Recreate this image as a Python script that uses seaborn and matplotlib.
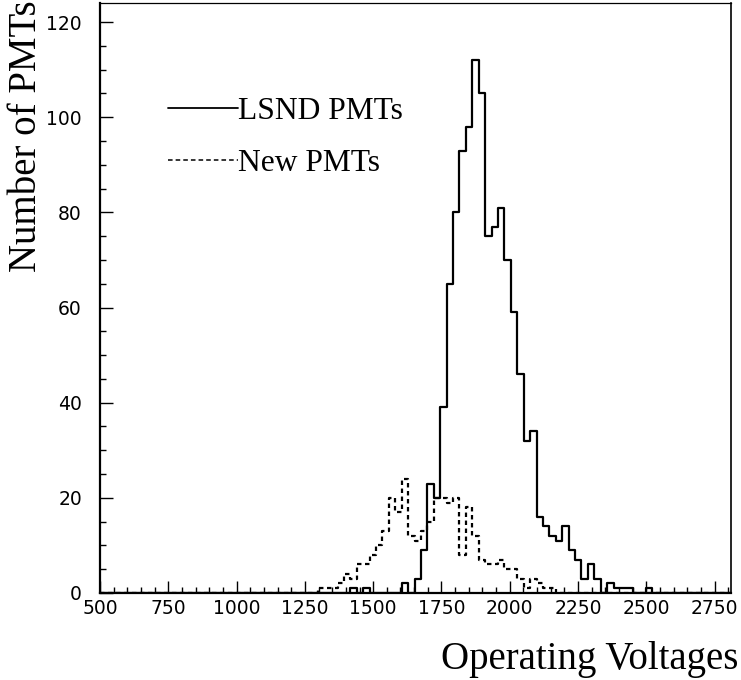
import numpy as np
import pandas as pd
import matplotlib
matplotlib.use("Agg")
import matplotlib.pyplot as plt
from matplotlib.lines import Line2D
from matplotlib.ticker import MultipleLocator
import seaborn as sns

# histogram booking: 100 bins between 500 and 2850 V
HIST_LO, HIST_HI, NBINS = 500, 2850, 100

# LSND PMTs: counts per bin, first entry is bin 39
lsnd_first_bin = 39
lsnd_counts = [1, 0, 1, 0, 0, 0, 0, 0, 2, 0, 3, 9, 23, 20, 39, 65, 80, 93, 98, 112,
               105, 75, 77, 81, 70, 59, 46, 32, 34, 16, 14, 12, 11, 14, 9, 7, 3, 6, 3, 0,
               2, 1, 1, 1, 0, 0, 1]

# New PMTs: counts per bin, first entry is bin 34
new_first_bin = 34
new_counts = [1, 1, 1, 2, 4, 3, 6, 6, 8, 10, 13, 20, 17, 24, 12, 11, 13, 15, 20, 20,
              19, 20, 8, 18, 12, 7, 6, 6, 7, 5, 5, 3, 1, 3, 2, 1, 1]

x_ticks = [500, 750, 1000, 1250, 1500, 1750, 2000, 2250, 2500, 2750]
y_ticks = [0, 20, 40, 60, 80, 100, 120]

edges = np.linspace(HIST_LO, HIST_HI, NBINS + 1)
centers = 0.5 * (edges[:-1] + edges[1:])


def to_frame(first_bin, counts):
    idx = np.arange(first_bin, first_bin + len(counts))
    return pd.DataFrame({"volt": centers[idx], "n": counts})


lsnd = to_frame(lsnd_first_bin, lsnd_counts)
new = to_frame(new_first_bin, new_counts)

sns.set_style("ticks")
plt.rcParams["font.family"] = ["DejaVu Sans"]
plt.rcParams["text.color"] = "black"
SERIF = ["Liberation Serif", "DejaVu Serif"]

fig = plt.figure(figsize=(7.41, 6.80), dpi=100)
ax = fig.add_axes([100 / 741, 87 / 680, 631 / 741, 590 / 680])

dash = (0, (2.0, 1.6))
hist_kw = dict(x="volt", weights="n", bins=NBINS, binrange=(HIST_LO, HIST_HI),
               element="step", fill=False, color="black", linewidth=1.6, ax=ax)
sns.histplot(data=lsnd, **hist_kw)
sns.histplot(data=new, linestyle=dash, **hist_kw)

ax.set_xlim(500, 2810)
ax.set_ylim(0, 124)
ax.set_xlabel("")
ax.set_ylabel("")

ax.xaxis.set_major_locator(plt.FixedLocator(x_ticks))
ax.xaxis.set_minor_locator(MultipleLocator(50))
ax.yaxis.set_major_locator(plt.FixedLocator(y_ticks))
ax.yaxis.set_minor_locator(MultipleLocator(5))
ax.tick_params(which="both", direction="in", color="black", width=1.0,
               labelsize=13.5, labelcolor="black", top=False, right=False)
ax.tick_params(which="major", length=9)
ax.tick_params(which="minor", length=4.5)
ax.tick_params(axis="y", which="major", pad=13)
ax.tick_params(axis="x", which="major", pad=4)

spine_w = {"left": 1.6, "bottom": 1.6, "top": 0.9, "right": 1.2}
for side, w in spine_w.items():
    ax.spines[side].set_visible(True)
    ax.spines[side].set_color("black")
    ax.spines[side].set_linewidth(w)

handles = [Line2D([], [], color="black", lw=1.3),
           Line2D([], [], color="black", lw=1.1, linestyle=(0, (3, 2)))]
ax.legend(handles, ["LSND PMTs", "New PMTs"], loc="upper left",
          bbox_to_anchor=(0.108, 0.84), frameon=False, handlelength=2.2,
          handletextpad=0.0, labelspacing=0.7, borderpad=0, borderaxespad=0,
          prop={"family": SERIF, "size": 22.7})

fig.text(27 / 741, 1.0, "Number of PMTs", rotation=90, ha="center", va="top",
         family=SERIF, fontsize=28)
fig.text(738 / 741, 1 - 660 / 680, "Operating Voltages", ha="right", va="center",
         family=SERIF, fontsize=28)

fig.savefig("out.png", dpi=100)
